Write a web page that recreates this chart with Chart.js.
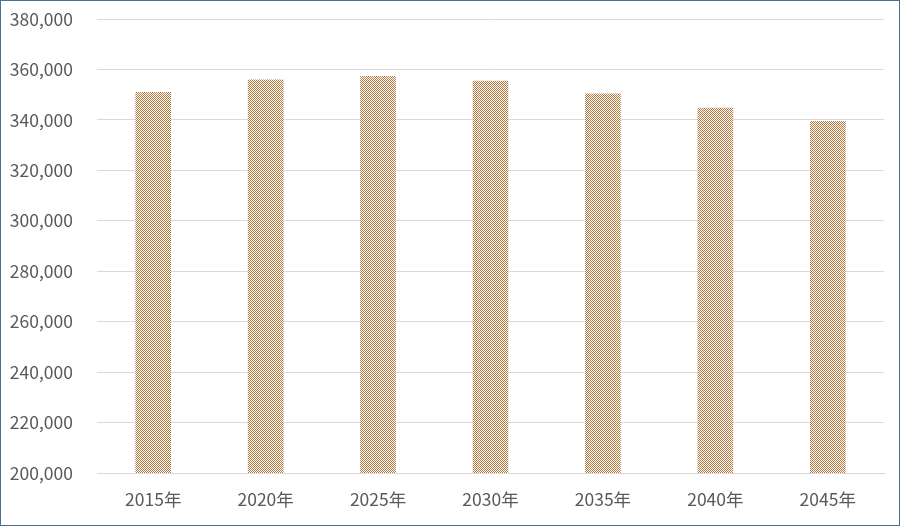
<!DOCTYPE html>
<html>
<head>
<meta charset="utf-8">
<script src="https://cdn.jsdelivr.net/npm/chart.js@4/dist/chart.umd.min.js"></script>
<style>
    html, body { margin: 0; padding: 0; background: #fff; }
    .frame {
        width: 900px;
        height: 526px;
        box-sizing: border-box;
        border: 1px solid #4a6f98;
        position: relative;
    }
    .frame canvas { display: block; }
</style>
</head>
<body>
<div class="frame">
    <canvas id="popChart" width="898" height="524"></canvas>
</div>
<script>
const labels = ['2015年', '2020年', '2025年', '2030年', '2035年', '2040年', '2045年'];
const population = [350900, 355900, 357300, 355400, 350300, 344700, 339400];
const yMin = 200000;
const yMax = 380000;
const yStep = 20000;

// checkerboard fill like the Excel pattern
function makePattern(color) {
    const c = document.createElement('canvas');
    c.width = 2;
    c.height = 2;
    const g = c.getContext('2d');
    g.fillStyle = '#ffffff';
    g.fillRect(0, 0, 2, 2);
    g.fillStyle = color;
    g.fillRect(0, 0, 1, 1);
    g.fillRect(1, 1, 1, 1);
    return g.createPattern(c, 'repeat');
}

const ctx = document.getElementById('popChart').getContext('2d');
const fontFamily = '"Noto Sans CJK JP", "Noto Sans", sans-serif';

new Chart(ctx, {
    type: 'bar',
    data: {
        labels: labels,
        datasets: [{
            data: population,
            backgroundColor: makePattern('#b97a42'),
            borderWidth: 0,
            barThickness: 35
        }]
    },
    options: {
        responsive: false,
        animation: false,
        layout: {
            padding: { top: 18, right: 15, bottom: 0, left: 0 }
        },
        plugins: {
            legend: { display: false },
            tooltip: { enabled: false }
        },
        scales: {
            x: {
                grid: { display: false, drawTicks: false },
                border: { display: true, color: '#d9d9d9' },
                ticks: {
                    color: '#595959',
                    font: { family: fontFamily, size: 17.5 },
                    padding: 16
                },
                afterFit: scale => { scale.height = 52; }
            },
            y: {
                min: yMin,
                max: yMax,
                grid: { color: '#d9d9d9', drawTicks: false },
                border: { display: false },
                ticks: {
                    stepSize: yStep,
                    color: '#595959',
                    font: { family: fontFamily, size: 17.5 },
                    padding: 24,
                    callback: value => value.toLocaleString('en-US')
                },
                afterFit: scale => {
                    scale.width = 96;
                    // tick padding would otherwise push the plot top down
                    scale.paddingTop = 0;
                    scale.paddingBottom = 0;
                }
            }
        }
    }
});
</script>
</body>
</html>
